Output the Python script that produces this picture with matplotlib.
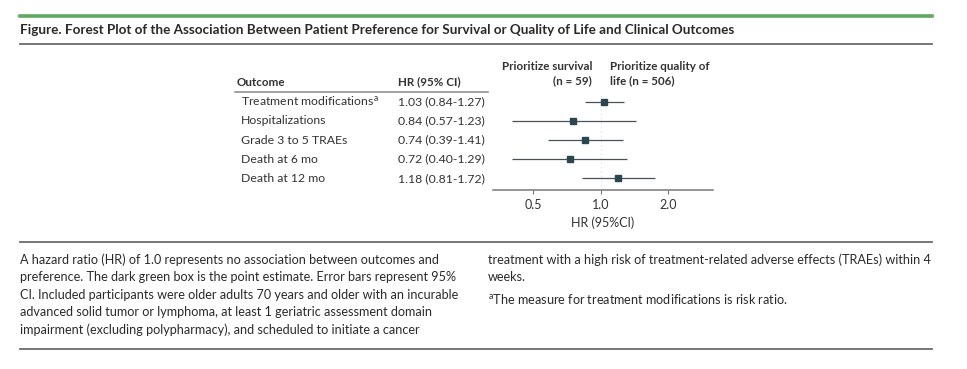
import matplotlib
matplotlib.use("Agg")
import matplotlib.pyplot as plt
from matplotlib.transforms import blended_transform_factory
from matplotlib.lines import Line2D

# ---------------- data ----------------
outcomes = ["Treatment modifications$^{\\mathrm{a}}$", "Hospitalizations",
            "Grade 3 to 5 TRAEs", "Death at 6 mo", "Death at 12 mo"]
hr_text = ["1.03 (0.84-1.27)", "0.84 (0.57-1.23)", "0.74 (0.39-1.41)",
           "0.72 (0.40-1.29)", "1.18 (0.81-1.72)"]
# point estimates and CIs as drawn in the plot (rows top to bottom)
point_hr = [1.03, 0.75, 0.85, 0.73, 1.19]
point_lo = [0.85, 0.40, 0.58, 0.40, 0.82]
point_hi = [1.27, 1.43, 1.25, 1.30, 1.74]
xticks = [0.5, 1.0, 2.0]
xtick_labels = ["0.5", "1.0", "2.0"]

title = "Figure. Forest Plot of the Association Between Patient Preference for Survival or Quality of Life and Clinical Outcomes"
left_par = ["A hazard ratio (HR) of 1.0 represents no association between outcomes and",
            "preference. The dark green box is the point estimate. Error bars represent 95%",
            "CI. Included participants were older adults 70 years and older with an incurable",
            "advanced solid tumor or lymphoma, at least 1 geriatric assessment domain",
            "impairment (excluding polypharmacy), and scheduled to initiate a cancer"]
right_par = ["treatment with a high risk of treatment-related adverse effects (TRAEs) within 4",
             "weeks."]
footnote = "$^{\\mathrm{a}}$The measure for treatment modifications is risk ratio."

# ---------------- style ----------------
plt.rcParams['font.family'] = ['Lato', 'DejaVu Sans']
plt.rcParams['mathtext.fontset'] = 'custom'
plt.rcParams['mathtext.rm'] = 'Lato'
plt.rcParams['mathtext.it'] = 'Lato:italic'
plt.rcParams['mathtext.bf'] = 'Lato:bold'

W, H = 967, 369
fig = plt.figure(figsize=(W / 100, H / 100), dpi=100)
fig.patch.set_facecolor("white")

TXT = "#333333"
MARK = "#2c4650"
LINE = "#4a5055"
FS_T = 8.8     # table text
FS_H = 8.4     # bold headers
FS_C = 9.1     # caption


def fx(px):
    return px / W


def fy(py):
    return 1 - py / H


def hline(y, x0=20, x1=932, color="#777777", lw=1.3):
    fig.add_artist(Line2D([fx(x0), fx(x1)], [fy(y), fy(y)], color=color, lw=lw,
                          transform=fig.transFigure))


# rules
hline(15.5, color="#5fa85f", lw=2.6)
hline(43.5, color="#6b6b6b", lw=1.3)
hline(242, color="#6b6b6b", lw=1.3)
hline(349, color="#6b6b6b", lw=1.3)

fig.text(fx(20), fy(29.5), title, fontsize=9.7, color="#2a2a2a", fontweight="bold",
         va="center", ha="left")

# ---------------- forest axes ----------------
ax_l, ax_r, ax_t, ax_b = 493, 713, 92, 189.5
ax = fig.add_axes([fx(ax_l), fy(ax_b), fx(ax_r - ax_l), (ax_b - ax_t) / H])
ax.set_xscale("log")
ax.set_xlim(0.33, 3.16)
ax.set_ylim(4.58, -0.505)
rows = list(range(len(point_hr)))

ax.axvline(1.0, color="#dcdcdc", lw=0.8, ls=(0, (1, 3)), zorder=0)
for r, h, lo, hi in zip(rows, point_hr, point_lo, point_hi):
    ax.plot([lo, hi], [r, r], color=LINE, lw=0.9, solid_capstyle="butt", zorder=2)
ax.plot(point_hr, rows, ls="none", marker="s", ms=4.2, color=MARK, zorder=3)

for s in ["top", "right", "left"]:
    ax.spines[s].set_visible(False)
ax.spines["bottom"].set_color("#777777")
ax.spines["bottom"].set_linewidth(1.1)
ax.set_yticks([])
ax.set_xticks(xticks)
ax.set_xticklabels(xtick_labels)
ax.minorticks_off()
ax.tick_params(axis="x", length=3, width=0.8, color="#777777", pad=4,
               labelsize=9.0, labelcolor=TXT)
ax.set_xlabel("HR (95%CI)", fontsize=9.0, color=TXT, labelpad=4)
ax.patch.set_alpha(0)

# ---------------- table ----------------
tr = blended_transform_factory(fig.transFigure, ax.transData)
for r, lab, t in zip(rows, outcomes, hr_text):
    fig.text(fx(241), r, lab, transform=tr, fontsize=FS_T, color=TXT, va="center", ha="left")
    fig.text(fx(397.5), r, t, transform=tr, fontsize=FS_T, color=TXT, va="center", ha="left")

fig.text(fx(237), fy(82), "Outcome", fontsize=FS_H, color=TXT, fontweight="bold", va="center")
fig.text(fx(397.5), fy(82), "HR (95% CI)", fontsize=FS_H, color=TXT, fontweight="bold", va="center")
hline(91.5, x0=235, x1=488, color="#888888", lw=1.1)

fig.text(fx(592), fy(66.5), "Prioritize survival", fontsize=FS_H, color=TXT,
         fontweight="bold", va="center", ha="right")
fig.text(fx(592), fy(81), "(n = 59)", fontsize=FS_H, color=TXT,
         fontweight="bold", va="center", ha="right")
fig.text(fx(610), fy(66.5), "Prioritize quality of", fontsize=FS_H, color=TXT,
         fontweight="bold", va="center", ha="left")
fig.text(fx(610), fy(81), "life (n = 506)", fontsize=FS_H, color=TXT,
         fontweight="bold", va="center", ha="left")

# ---------------- caption ----------------
y0, dy = 260, 17.4
for i, line in enumerate(left_par):
    fig.text(fx(20), fy(y0 + i * dy), line, fontsize=FS_C, color="#2a2a2a", va="center")
for i, line in enumerate(right_par):
    fig.text(fx(488), fy(y0 + i * dy), line, fontsize=FS_C, color="#2a2a2a", va="center")
fig.text(fx(488), fy(299.5), footnote, fontsize=FS_C, color="#2a2a2a", va="center")

fig.savefig("out.png", dpi=100, facecolor="white")
